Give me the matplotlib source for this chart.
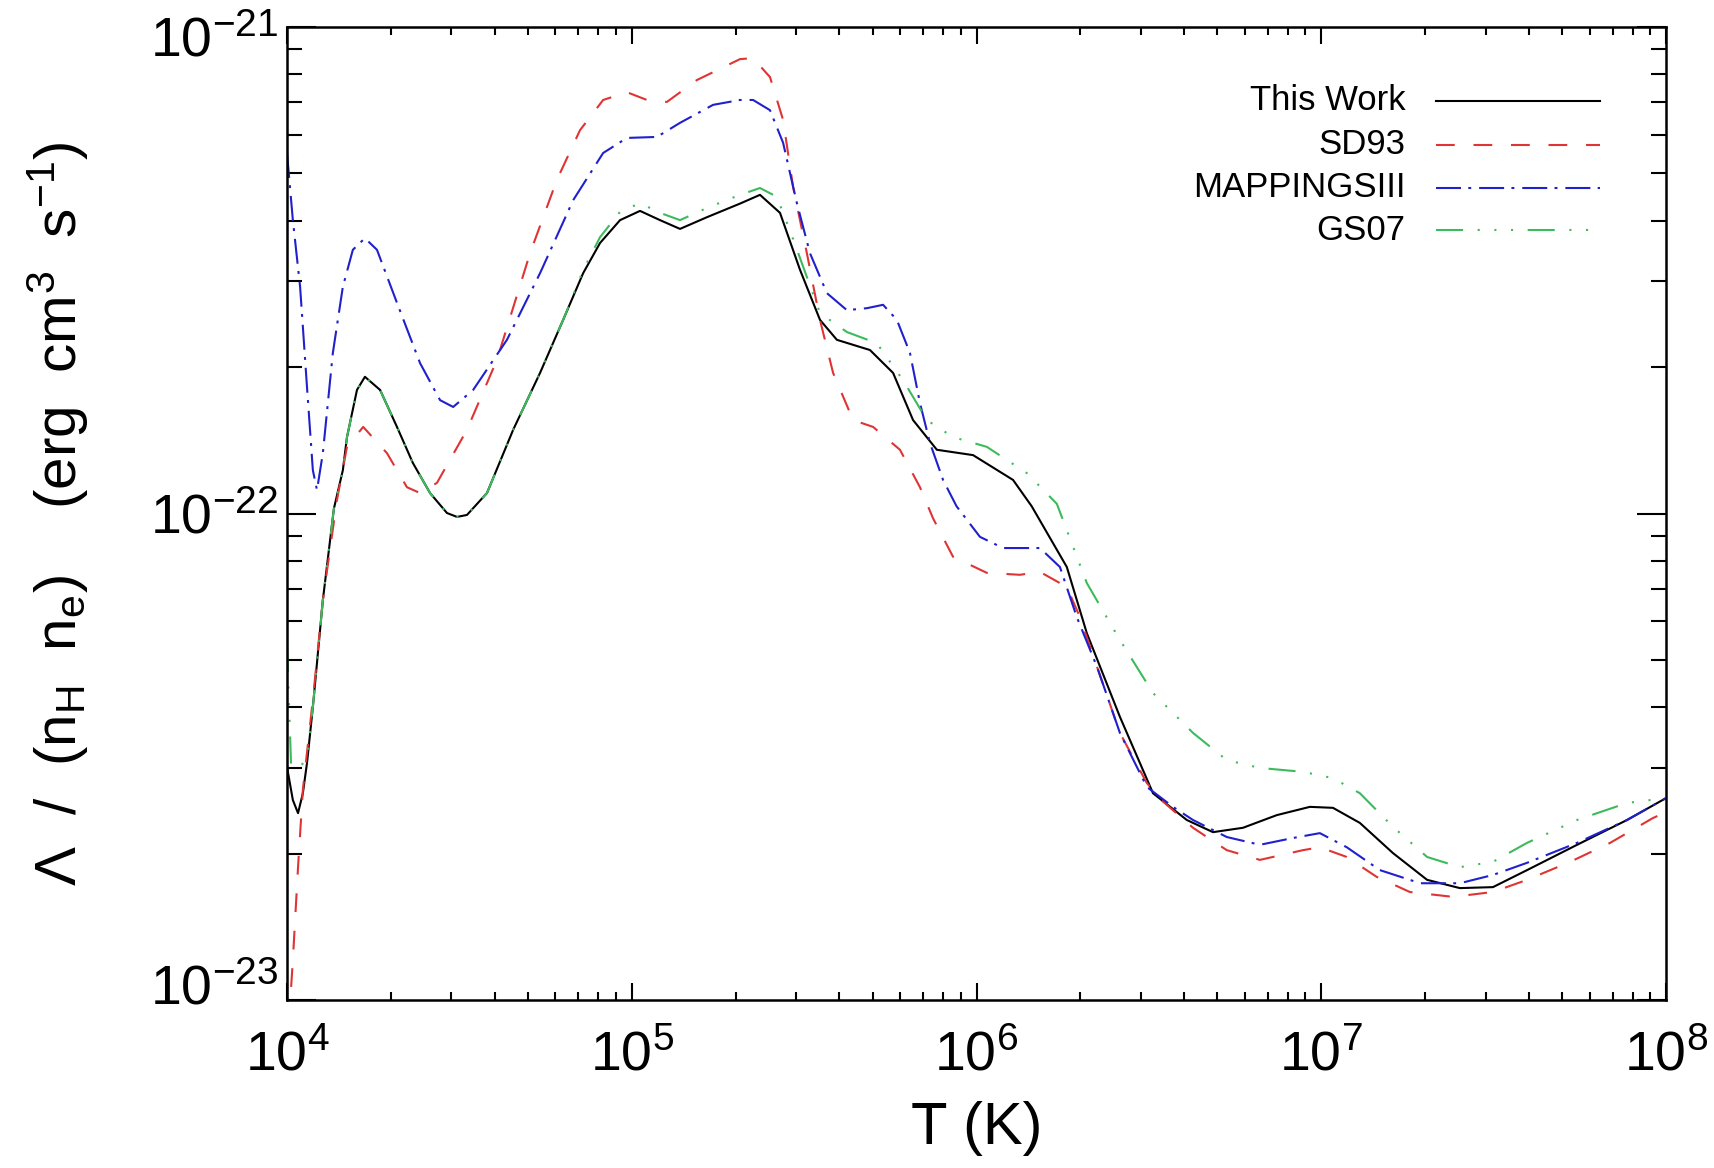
import numpy as np
import matplotlib
matplotlib.use('Agg')
import matplotlib.pyplot as plt
from matplotlib.ticker import NullFormatter
from matplotlib.transforms import ScaledTranslation

plt.rcParams['font.family'] = ['Liberation Sans', 'DejaVu Sans']
plt.rcParams['mathtext.fontset'] = 'custom'
plt.rcParams['mathtext.rm'] = 'Liberation Sans'
plt.rcParams['mathtext.it'] = 'Liberation Sans:italic'
plt.rcParams['mathtext.bf'] = 'Liberation Sans:bold'

# cooling curves, log10 T (K) vs log10 Lambda/(nH ne) (erg cm^3 s^-1)
this_work_logT = [4.000, 4.017, 4.032, 4.046, 4.058, 4.075, 4.104, 4.136, 4.162, 4.174,
                  4.203, 4.226, 4.270, 4.319, 4.365, 4.415, 4.464, 4.493, 4.522, 4.580,
                  4.656, 4.734, 4.801, 4.859, 4.908, 4.966, 5.024, 5.082, 5.140, 5.218,
                  5.314, 5.372, 5.430, 5.488, 5.546, 5.595, 5.691, 5.758, 5.816, 5.885,
                  5.990, 6.106, 6.160, 6.262, 6.320, 6.416, 6.512, 6.610, 6.686, 6.773,
                  6.871, 6.967, 7.034, 7.112, 7.208, 7.307, 7.402, 7.498, 7.597, 7.742,
                  7.887, 8.000]
this_work_logL = [-22.521, -22.589, -22.616, -22.575, -22.513, -22.398, -22.178, -21.990, -21.911, -21.843,
                  -21.746, -21.719, -21.746, -21.822, -21.896, -21.958, -21.999, -22.007, -22.003, -21.958,
                  -21.828, -21.711, -21.602, -21.506, -21.444, -21.397, -21.378, -21.397, -21.415, -21.391,
                  -21.363, -21.345, -21.382, -21.499, -21.602, -21.643, -21.664, -21.711, -21.808, -21.869,
                  -21.880, -21.931, -21.985, -22.110, -22.246, -22.418, -22.575, -22.630, -22.655, -22.646,
                  -22.620, -22.603, -22.605, -22.636, -22.698, -22.753, -22.770, -22.768, -22.733, -22.681,
                  -22.630, -22.585]

sd93_logT = [4.005, 4.017, 4.032, 4.046, 4.075, 4.104, 4.145, 4.174, 4.221, 4.290,
             4.348, 4.386, 4.435, 4.522, 4.609, 4.705, 4.783, 4.850, 4.917, 4.986,
             5.044, 5.102, 5.189, 5.314, 5.352, 5.401, 5.439, 5.468, 5.508, 5.546,
             5.584, 5.642, 5.700, 5.778, 5.836, 5.874, 5.932, 6.030, 6.126, 6.184,
             6.262, 6.300, 6.350, 6.416, 6.494, 6.541, 6.628, 6.726, 6.822, 6.947,
             6.996, 7.074, 7.161, 7.257, 7.382, 7.498, 7.597, 7.722, 7.838, 7.962,
             8.000]
sd93_logL = [-23.050, -22.918, -22.727, -22.568, -22.383, -22.178, -21.972, -21.863, -21.822, -21.876,
             -21.946, -21.958, -21.937, -21.828, -21.684, -21.465, -21.314, -21.212, -21.150, -21.134,
             -21.150, -21.154, -21.109, -21.066, -21.064, -21.103, -21.191, -21.329, -21.465, -21.602,
             -21.711, -21.808, -21.822, -21.869, -21.946, -22.010, -22.089, -22.122, -22.126, -22.120,
             -22.151, -22.213, -22.316, -22.451, -22.554, -22.592, -22.646, -22.692, -22.712, -22.692,
             -22.686, -22.706, -22.747, -22.778, -22.788, -22.778, -22.753, -22.716, -22.677, -22.626,
             -22.614]

mappings_logT = [4.000, 4.017, 4.038, 4.058, 4.075, 4.087, 4.104, 4.133, 4.162, 4.191,
                 4.226, 4.261, 4.319, 4.386, 4.444, 4.482, 4.540, 4.638, 4.734, 4.830,
                 4.917, 4.986, 5.073, 5.140, 5.236, 5.314, 5.352, 5.401, 5.439, 5.479,
                 5.517, 5.566, 5.624, 5.682, 5.729, 5.769, 5.807, 5.836, 5.865, 5.903,
                 5.942, 6.010, 6.077, 6.184, 6.242, 6.291, 6.350, 6.416, 6.494, 6.570,
                 6.628, 6.726, 6.822, 6.918, 6.996, 7.074, 7.170, 7.287, 7.402, 7.498,
                 7.597, 7.742, 7.887, 8.000]
mappings_logL = [-21.259, -21.397, -21.534, -21.740, -21.911, -21.952, -21.876, -21.670, -21.534, -21.458,
                 -21.434, -21.458, -21.567, -21.691, -21.767, -21.781, -21.746, -21.643, -21.506, -21.356,
                 -21.259, -21.228, -21.226, -21.197, -21.160, -21.150, -21.150, -21.171, -21.238, -21.362,
                 -21.465, -21.547, -21.582, -21.578, -21.571, -21.602, -21.670, -21.773, -21.855, -21.931,
                 -21.985, -22.048, -22.071, -22.071, -22.110, -22.213, -22.316, -22.451, -22.562, -22.603,
                 -22.630, -22.665, -22.681, -22.667, -22.657, -22.686, -22.733, -22.760, -22.760, -22.743,
                 -22.718, -22.677, -22.630, -22.585]

gs07_logT = [4.000, 4.012, 4.040, 4.058, 4.075, 4.104, 4.136, 4.162, 4.174, 4.203,
             4.226, 4.270, 4.319, 4.365, 4.415, 4.464, 4.493, 4.522, 4.580, 4.656,
             4.734, 4.801, 4.859, 4.908, 4.966, 5.024, 5.082, 5.140, 5.218, 5.314,
             5.372, 5.421, 5.465, 5.546, 5.624, 5.711, 5.787, 5.856, 5.932, 6.030,
             6.146, 6.233, 6.320, 6.416, 6.512, 6.628, 6.726, 6.822, 6.947, 7.034,
             7.112, 7.208, 7.307, 7.402, 7.498, 7.597, 7.742, 7.887, 8.000]
gs07_logL = [-22.270, -22.520, -22.520, -22.500, -22.398, -22.178, -21.990, -21.911, -21.843, -21.746,
             -21.719, -21.746, -21.822, -21.896, -21.958, -21.999, -22.007, -22.003, -21.958, -21.828,
             -21.711, -21.602, -21.500, -21.432, -21.380, -21.362, -21.382, -21.397, -21.372, -21.345,
             -21.331, -21.349, -21.430, -21.588, -21.627, -21.650, -21.726, -21.808, -21.843, -21.863,
             -21.917, -21.980, -22.143, -22.260, -22.369, -22.451, -22.507, -22.523, -22.531, -22.544,
             -22.575, -22.644, -22.706, -22.727, -22.716, -22.677, -22.630, -22.595, -22.585]

series = [
    ('This Work', this_work_logT, this_work_logL, 'black', '-'),
    ('SD93', sd93_logT, sd93_logL, '#e03434', (0, (9, 9))),
    ('MAPPINGSIII', mappings_logT, mappings_logL, '#2020cc', (0, (12, 3.5, 1.4, 3.8))),
    ('GS07', gs07_logT, gs07_logL, '#3dbb5c', (0, (13, 7, 1, 7, 1, 7, 1, 7))),
]
LW = 1.5

x_decades = [4, 5, 6, 7, 8]
y_decades = [-23, -22, -21]

fig = plt.figure(figsize=(17.14, 11.68), dpi=100)
ax = fig.add_axes([287 / 1714, 1 - 1000 / 1168, 1379 / 1714, 973 / 1168])

for name, lt, ll, col, ls in series:
    ax.plot(10 ** np.array(lt), 10 ** np.array(ll), color=col, linestyle=ls, lw=LW)

ax.set_xscale('log')
ax.set_yscale('log')
ax.set_xlim(1e4, 1e8)
ax.set_ylim(1e-23, 1e-21)

# only ticks that sit inside the frame
subs = np.arange(2, 10)
ax.set_xticks([10.0 ** d for d in x_decades])
ax.set_xticks([s * 10.0 ** d for d in x_decades[:-1] for s in subs], minor=True)
ax.set_yticks([10.0 ** d for d in y_decades])
ax.set_yticks([s * 10.0 ** d for d in y_decades[:-1] for s in subs], minor=True)
ax.xaxis.set_minor_formatter(NullFormatter())
ax.yaxis.set_minor_formatter(NullFormatter())

ax.tick_params(which='both', direction='in', top=True, right=True, width=1.5, colors='black')
ax.tick_params(axis='x', which='major', length=12, pad=22, labelsize=40)
ax.tick_params(axis='x', which='minor', length=6)
ax.tick_params(axis='y', which='major', length=21, pad=6, labelsize=40)
ax.tick_params(axis='y', which='minor', length=11)
for sp in ax.spines.values():
    sp.set_linewidth(1.8)

# pull the end labels of the y axis in towards the frame
fig.canvas.draw()
for t, val in zip(ax.yaxis.get_major_ticks(), ax.get_yticks()):
    dec = round(np.log10(val))
    if dec == -21:
        t.label1.set_transform(t.label1.get_transform() + ScaledTranslation(0, -7 / 72, fig.dpi_scale_trans))
    elif dec == -23:
        t.label1.set_transform(t.label1.get_transform() + ScaledTranslation(0, 11 / 72, fig.dpi_scale_trans))

ax.set_xlabel('T (K)', fontsize=43)
ax.xaxis.set_label_coords(0.5, -0.104)
ax.set_ylabel('Λ  /  (n$_{\\rm H}$  n$_{\\rm e}$)    (erg  cm$^{3}$  s$^{-1}$)', fontsize=42)
ax.yaxis.set_label_coords(-0.142, 0.5)

# legend: labels right-aligned, sample line to the right
leg_y = [0.924, 0.879, 0.835, 0.791]
for (name, lt, ll, col, ls), yy in zip(series, leg_y):
    ax.plot([0.833, 0.952], [yy, yy], transform=ax.transAxes, color=col, linestyle=ls, lw=LW)
    ax.text(0.811, yy, name, transform=ax.transAxes, ha='right', va='center', fontsize=25)

fig.savefig('out.png', dpi=100)
